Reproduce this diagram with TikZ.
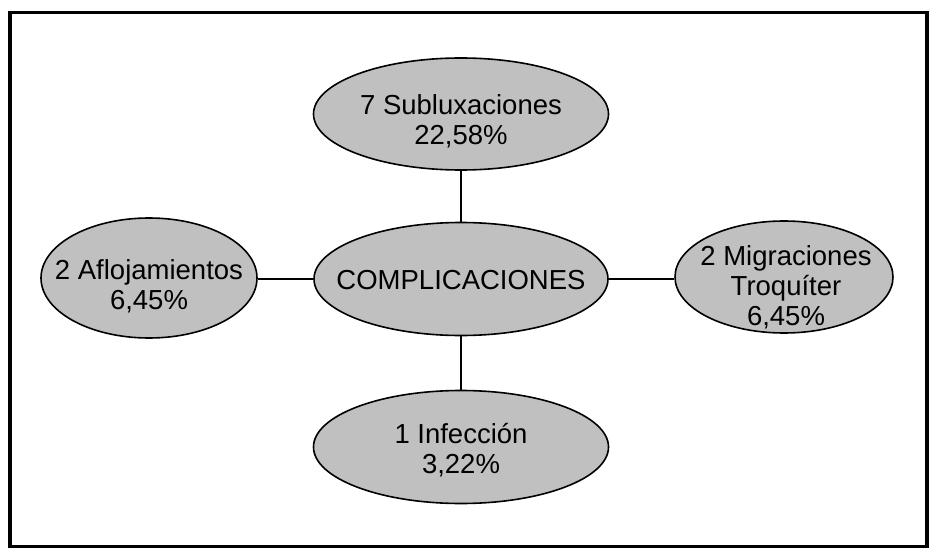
\documentclass[tikz,border=0pt]{standalone}
\usepackage{fontspec}
\setmainfont{Liberation Sans}
\usetikzlibrary{shapes.geometric}
\definecolor{ellfill}{RGB}{192,192,192}
\tikzset{
  ell/.style={ellipse, draw=black, line width=1.6pt, fill=ellfill, inner sep=0pt},
  txt/.style={align=center, font=\fontsize{27.5}{30}\selectfont, inner sep=0pt},
  link/.style={draw=black, line width=2.8pt},
}
\begin{document}
\begin{tikzpicture}[x=1pt, y=-1pt]
\useasboundingbox (0,0) rectangle (934,556);
\draw[line width=3.4pt] (10,12.5) rectangle (927,546.5);
% ellipses
\node[ell, minimum width=295, minimum height=112] (top) at (461,114) {};
\node[ell, minimum width=294, minimum height=113] (cen) at (461,279) {};
\node[ell, minimum width=216, minimum height=120] (lft) at (149,278) {};
\node[ell, minimum width=218, minimum height=112] (rgt) at (784,277) {};
\node[ell, minimum width=295, minimum height=113] (bot) at (461,447) {};
% connectors
\draw[link] (top.south) -- (cen.north);
\draw[link] (cen.south) -- (bot.north);
\draw[link] (lft.east |- cen.west) -- (cen.west);
\draw[link] (cen.east) -- (rgt.west |- cen.east);
% texts
\node[txt] (ttop) at (461,121) {7 Subluxaciones\\22,58\%};
\node[txt] (tcen) at (461,280) {COMPLICACIONES};
\node[txt] (tlft) at (149,286) {2 Aflojamientos\\6,45\%};
\node[txt] (trgt) at (786,287) {2 Migraciones\\Troquíter\\6,45\%};
\node[txt] (tbot) at (461,450) {1 Infección\\3,22\%};
\end{tikzpicture}
\end{document}
